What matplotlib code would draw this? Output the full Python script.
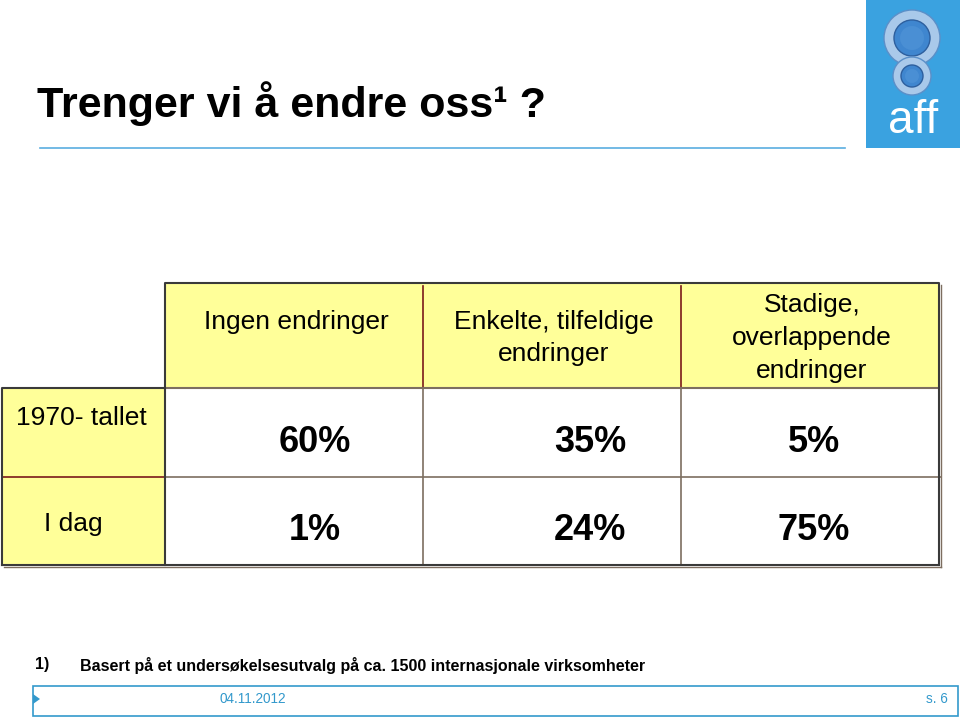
import matplotlib
matplotlib.use('Agg')
from matplotlib import pyplot as plt
from matplotlib.patches import Rectangle, Circle, Polygon

plt.rcParams['font.family'] = ['Liberation Sans', 'DejaVu Sans']

title = 'Trenger vi å endre oss¹ ?'
headers = ['Ingen endringer', 'Enkelte, tilfeldige\nendringer', 'Stadige,\noverlappende\nendringer']
rows = ['1970- tallet', 'I dag']
values = [[60, 35, 5],
          [1, 24, 75]]
note_num = '1)'
note = 'Basert på et undersøkelsesutvalg på ca. 1500 internasjonale virksomheter'
date = '04.11.2012'
page = 's. 6'

yellow = '#ffff99'
dark = '#3a3a3a'
red = '#7a1a1a'
grid = '#7d6e60'
blue = '#3399cc'

fig = plt.figure(figsize=(9.6, 7.21), dpi=100)
ax = fig.add_axes([0, 0, 1, 1])
ax.set_xlim(0, 960)
ax.set_ylim(721, 0)
ax.axis('off')

# title + rule
ax.text(37, 104, title, fontsize=31, fontweight='bold', va='center', ha='left')
ax.plot([40, 845], [148, 148], color='#5aaee0', lw=1.2)

# logo
ax.add_patch(Rectangle((866, 0), 94, 148, facecolor='#3aa2e0', edgecolor='none'))
ax.add_patch(Circle((912, 38), 28, facecolor='#a9c9ea', edgecolor='#5b8fc8', lw=1))
ax.add_patch(Circle((912, 38), 18, facecolor='#3f86cf', edgecolor='#2d5f9e', lw=1))
ax.add_patch(Circle((912, 38), 12, facecolor='#4a8fd4', edgecolor='none'))
ax.add_patch(Circle((912, 76), 19, facecolor='#a9c9ea', edgecolor='#5b8fc8', lw=1))
ax.add_patch(Circle((912, 76), 11, facecolor='#3f86cf', edgecolor='#2d5f9e', lw=1))
ax.add_patch(Circle((912, 76), 7, facecolor='#4a8fd4', edgecolor='none'))
t = ax.text(913, 121, 'aff', fontsize=33, color='white', ha='center', va='center')
t.set_stretch('expanded')

# table geometry
col_x = [165, 423, 681, 939]
head_y = (283, 388)
row_y = [388, 477, 565]
lab_x = (2, 165)
val_x = [315, 590, 814]

# header row
ax.add_patch(Rectangle((col_x[0], head_y[0]), col_x[-1] - col_x[0], head_y[1] - head_y[0],
                       facecolor=yellow, edgecolor='none'))
for i, h in enumerate(headers):
    cx = (col_x[i] + col_x[i + 1]) / 2
    ax.text(cx + 2, 322 if i == 0 else 338, h, fontsize=19, ha='center', va='center', linespacing=1.45)
for x in col_x[1:-1]:
    ax.plot([x, x], [head_y[0] + 3, head_y[1]], color=red, lw=1.2)

# row labels
ax.add_patch(Rectangle((lab_x[0], row_y[0]), lab_x[1] - lab_x[0], row_y[-1] - row_y[0],
                       facecolor=yellow, edgecolor='none'))
ax.text(81, 418, rows[0], fontsize=19, ha='center', va='center')
ax.text(73, 524, rows[1], fontsize=19, ha='center', va='center')
ax.plot([lab_x[0], lab_x[1]], [row_y[1], row_y[1]], color=red, lw=1.2)

# values
for r, vals in enumerate(values):
    cy = (row_y[r] + row_y[r + 1]) / 2 + 10
    for c, v in enumerate(vals):
        ax.text(val_x[c], cy, f'{v}%', fontsize=26, fontweight='bold', ha='center', va='center')

# inner grid
for x in col_x[1:-1]:
    ax.plot([x, x], [row_y[0], row_y[-1]], color=grid, lw=1.2)
ax.plot([col_x[0], col_x[-1] + 2], [row_y[1], row_y[1]], color=grid, lw=1.2)
ax.plot([col_x[0], col_x[-1]], [row_y[0], row_y[0]], color=grid, lw=1.5)

# outer borders
ax.plot([col_x[0], col_x[0], col_x[-1], col_x[-1]], [row_y[0], head_y[0], head_y[0], row_y[-1]],
        color=dark, lw=1.5)
ax.plot([col_x[-1] + 2, col_x[-1] + 2], [head_y[0] + 2, row_y[-1] + 2], color=grid, lw=1)
ax.plot([lab_x[0], lab_x[0], lab_x[1], lab_x[1]], [row_y[-1], row_y[0], row_y[0], row_y[-1]],
        color=dark, lw=1.5)
ax.plot([lab_x[0], col_x[-1]], [row_y[-1], row_y[-1]], color=dark, lw=1.5)
ax.plot([lab_x[0] + 2, col_x[-1] + 2], [row_y[-1] + 2, row_y[-1] + 2], color=grid, lw=1)

# footnote
ax.text(35, 665, note_num, fontsize=11.5, fontweight='bold', ha='left', va='center')
ax.text(80, 665, note, fontsize=11.5, fontweight='bold', ha='left', va='center')

# footer bar
ax.add_patch(Rectangle((33, 686), 925, 30, facecolor='none', edgecolor=blue, lw=1.2))
ax.add_patch(Polygon([[33, 694], [33, 704], [40, 699]], closed=True, facecolor=blue, edgecolor='none'))
ax.text(220, 699, date, fontsize=9.8, color=blue, ha='left', va='center')
ax.text(948, 699, page, fontsize=9.8, color=blue, ha='right', va='center')

fig.savefig('out.png', dpi=100)
